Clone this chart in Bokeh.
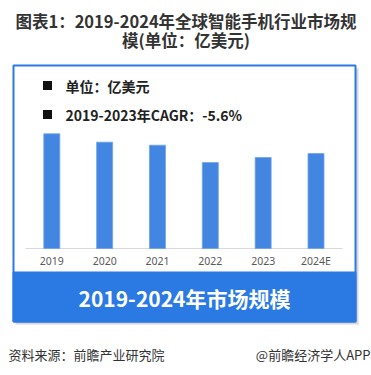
from bokeh.plotting import figure
from bokeh.models import Range1d
from bokeh.core.properties import value
from bokeh.embed import file_html
from bokeh.resources import INLINE

# ---- data ----
years = ["2019", "2020", "2021", "2022", "2023", "2024E"]
market = [5220, 4840, 4700, 3910, 4140, 4320]  # 亿美元
title_lines = ["图表1：2019-2024年全球智能手机行业市场规", "模(单位：亿美元)"]
legend_lines = ["单位：亿美元", "2019-2023年CAGR：-5.6%"]
banner_text = "2019-2024年市场规模"
source_text = "资料来源：前瞻产业研究院"
brand_text = "@前瞻经济学人APP"

BLUE = "#2b7ae4"
BAR = "#4286e1"
CJK = "Noto Sans CJK SC"

W, H = 371, 375
p = figure(width=W, height=H, output_backend="svg", toolbar_location=None,
           x_range=Range1d(0, W), y_range=Range1d(H, 0),
           min_border=0, outline_line_color=None)
p.axis.visible = False
p.grid.visible = False
p.background_fill_color = "white"
p.border_fill_color = "white"

# bar scales: category index on x, value on y (baseline at page y=248)
x0, dx = 51.3, 52.84
base_y, px_per_unit = 248.0, 114.7 / 5220
p.extra_x_ranges = {"idx": Range1d((0 - x0) / dx, (W - x0) / dx)}
p.extra_y_ranges = {"val": Range1d((base_y - H) / px_per_unit,
                                   (base_y - 0) / px_per_unit)}

# title
p.text(x=[185.5, 185.5], y=[20.5, 39.5], text=title_lines, text_font=value(CJK),
       text_font_style="bold", text_font_size="16.5px", text_color="#333333",
       text_align="center", text_baseline="middle")

# shadow, frame, banner
p.quad(left=[15], right=[358], top=[68], bottom=[324], fill_color="#cccccc",
       fill_alpha=0.8, line_color=None)
p.quad(left=[13], right=[355], top=[65], bottom=[321], fill_color="white",
       line_color=BLUE, line_width=2)
p.quad(left=[13], right=[355], top=[272], bottom=[321], fill_color=BLUE,
       line_color=BLUE, line_width=2)

# legend notes
p.quad(left=[42.5, 42.5], right=[51.5, 51.5], top=[80.5, 109.5], bottom=[89.5, 118.5],
       fill_color="#111111", line_color=None)
p.text(x=[65, 65], y=[85.5, 114], text=legend_lines, text_font=value(CJK),
       text_font_style="bold", text_font_size="14px", text_color="#222222",
       text_align="left", text_baseline="middle")

# axis line
p.segment(x0=[25], x1=[342], y0=[base_y], y1=[base_y], line_color="#d9d9d9", line_width=1.2)

# bars
idx = list(range(len(years)))
p.vbar(x=idx, top=market, bottom=0, width=16 / dx, fill_color=BAR,
       line_color="#6ea2e8", line_width=0.8,
       x_range_name="idx", y_range_name="val")

# category labels
p.text(x=idx, y=[260.5] * len(years), text=years, text_font=value("Noto Sans"),
       text_font_size="10.5px", text_color="#595959", text_align="center",
       text_baseline="middle", x_range_name="idx")

# banner text
p.text(x=[184], y=[297.5], text=[banner_text], text_font=value(CJK),
       text_font_style="bold", text_font_size="21px", text_color="white",
       text_align="center", text_baseline="middle")

# footer
p.text(x=[8], y=[354], text=[source_text], text_font=value(CJK),
       text_font_size="13px", text_color="#333333", text_align="left",
       text_baseline="middle")
p.text(x=[370], y=[354], text=[brand_text], text_font=value(CJK),
       text_font_size="13px", text_color="#333333", text_align="right",
       text_baseline="middle")

open("out.html", "w").write(file_html(p, INLINE))
